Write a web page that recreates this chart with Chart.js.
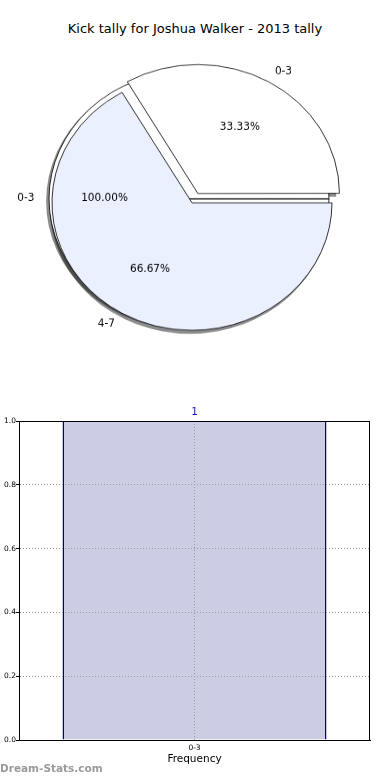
<!DOCTYPE html>
<html>
<head>
<meta charset="utf-8">
<script src="https://cdn.jsdelivr.net/npm/chart.js@4.4.1/dist/chart.umd.min.js"></script>
<style>
  body { margin: 0; background: #fff; width: 390px; height: 780px; overflow: hidden; position: relative; font-family: "DejaVu Sans", sans-serif; }
  #title { position: absolute; top: 21px; left: 0; width: 390px; text-align: center; font-size: 13px; color: #000; }
  canvas { position: absolute; }
  .pie { transform-origin: 0 0; transform: scaleY(0.911); }
  #bgPie { left: -3.5px; top: 52.6px; }
  #pie { left: 0; top: 57.2px; }
  #bar { left: 0; top: 400px; }
  #mark { position: absolute; left: 0; top: 762px; font-size: 10.5px; font-weight: bold; color: #9a9a9a; }
</style>
</head>
<body>
<div id="title">Kick tally for Joshua Walker - 2013 tally</div>
<canvas id="bgPie" class="pie" width="384" height="320"></canvas>
<canvas id="pie" class="pie" width="384" height="320"></canvas>
<canvas id="bar" width="390" height="380"></canvas>
<div id="mark">Dream-Stats.com</div>
<script>
// data
const allLabels = ['0-3'];
const allValues = [1];
const pieLabels = ['0-3', '4-7'];
const pieValues = [1, 2];
const barLabels = ['0-3'];
const barValues = [1];
const yTicks = [0, 0.2, 0.4, 0.6, 0.8, 1.0];

const squash = 0.911;
// where the back pie sits relative to the front one (front canvas units)
const bgShift = { x: -3.5, y: (52.6 - 57.2) / squash };

let bgChart, mainChart;

// chart.js moves an arc by offset / 4
function arcCenter(arc, p, mid) {
    const off = (arc.options.offset || 0) / 4;
    return { x: p.x + Math.cos(mid) * off, y: p.y + Math.sin(mid) * off };
}

// grey offset copy of each wedge (like matplotlib shadow=True)
function drawShadows(chart, ctx) {
    ctx.save();
    ctx.fillStyle = 'rgba(0,0,0,0.45)';
    chart.getDatasetMeta(0).data.forEach(arc => {
        const p = arc.getProps(['x', 'y', 'startAngle', 'endAngle', 'outerRadius']);
        const mid = (p.startAngle + p.endAngle) / 2;
        const c = arcCenter(arc, p, mid);
        const cx = c.x - 2.5, cy = c.y + 2.8;
        ctx.beginPath();
        ctx.moveTo(cx, cy);
        ctx.arc(cx, cy, p.outerRadius + 0.4, p.startAngle, p.endAngle);
        ctx.closePath();
        ctx.fill();
    });
    ctx.restore();
}

// label outside at 1.1r, percent inside at 0.6r
function drawPieLabels(chart, ctx) {
    const ds = chart.data.datasets[0];
    const total = ds.data.reduce((a, b) => a + b, 0);
    chart.getDatasetMeta(0).data.forEach((arc, i) => {
        const p = arc.getProps(['x', 'y', 'startAngle', 'endAngle', 'outerRadius']);
        const mid = (p.startAngle + p.endAngle) / 2;
        const c = arcCenter(arc, p, mid);
        const put = (txt, k, align) => {
            ctx.save();
            ctx.translate(c.x + Math.cos(mid) * p.outerRadius * k, c.y + Math.sin(mid) * p.outerRadius * k);
            ctx.scale(1, 1 / squash);
            ctx.font = '10.5px "DejaVu Sans"';
            ctx.fillStyle = '#000';
            ctx.textAlign = align;
            ctx.textBaseline = 'middle';
            ctx.fillText(txt, 0, 0);
            ctx.restore();
        };
        put(chart.data.labels[i], 1.1, Math.cos(mid) > 0.001 ? 'left' : 'right');
        put((ds.data[i] / total * 100).toFixed(2) + '%', 0.6, 'center');
    });
}

function pieOptions(rotation) {
    return {
        responsive: false,
        animation: false,
        radius: 140,
        rotation: rotation,
        layout: { padding: 0 },
        plugins: { legend: { display: false }, tooltip: { enabled: false } }
    };
}

// front pie (canvas on top); it also prints the back pie's texts
mainChart = new Chart(document.getElementById('pie'), {
    type: 'pie',
    data: {
        labels: pieLabels,
        datasets: [{
            data: pieValues,
            backgroundColor: ['#ffffff', '#eaf0fd'],
            borderColor: '#000',
            borderWidth: 0.8,
            offset: [47, 0]
        }]
    },
    options: pieOptions(-30),
    plugins: [{
        id: 'labels',
        afterDraw(chart) {
            if (bgChart) {
                chart.ctx.save();
                chart.ctx.translate(bgShift.x, bgShift.y);
                drawPieLabels(bgChart, chart.ctx);
                chart.ctx.restore();
            }
            drawPieLabels(chart, chart.ctx);
        }
    }]
});

// back pie: all shadows go under it, so the front pie's shadow only peeks out past its rim
bgChart = new Chart(document.getElementById('bgPie'), {
    type: 'pie',
    data: {
        labels: allLabels,
        datasets: [{ data: allValues, backgroundColor: ['#ffffff'], borderColor: '#000', borderWidth: 0.8 }]
    },
    options: pieOptions(90),
    plugins: [{
        id: 'shadow',
        beforeDatasetsDraw(chart) {
            drawShadows(chart, chart.ctx);
            chart.ctx.save();
            chart.ctx.translate(-bgShift.x, -bgShift.y);
            drawShadows(mainChart, chart.ctx);
            chart.ctx.restore();
        }
    }]
});
mainChart.draw();

// frame around the plot area + value on top of bars
const framePlugin = {
    id: 'frame',
    afterDraw(chart) {
        const ctx = chart.ctx, a = chart.chartArea;
        ctx.save();
        ctx.strokeStyle = '#000';
        ctx.lineWidth = 1;
        ctx.strokeRect(a.left + 0.5, a.top + 0.5, a.right - a.left - 1, a.bottom - a.top);
        ctx.font = '10.5px "DejaVu Sans"';
        ctx.fillStyle = '#1a1a9a';
        ctx.textAlign = 'center';
        ctx.textBaseline = 'bottom';
        chart.getDatasetMeta(0).data.forEach((bar, i) => {
            ctx.fillText(String(barValues[i]), bar.x, bar.y - 3);
        });
        ctx.restore();
    }
};

new Chart(document.getElementById('bar'), {
    type: 'bar',
    data: {
        labels: barLabels,
        datasets: [{
            data: barValues,
            backgroundColor: 'rgb(204,204,228)',
            borderColor: '#000080',
            borderWidth: { left: 1.5, right: 1.5, top: 0, bottom: 0 },
            barPercentage: 0.752,
            categoryPercentage: 1
        }]
    },
    options: {
        responsive: false,
        animation: false,
        layout: { padding: { left: 0, top: 21, right: 20, bottom: 0 } },
        plugins: { legend: { display: false }, tooltip: { enabled: false } },
        scales: {
            x: {
                // grid above the bar, border after the grid
                grid: { z: 1, offset: false, color: '#999', drawTicks: false },
                border: { z: 1, color: '#000', dash: [1, 2] },
                ticks: { padding: 4, color: '#000', font: { family: 'DejaVu Sans', size: 7.5 } },
                title: { display: true, text: 'Frequency', color: '#000', font: { family: 'DejaVu Sans', size: 10.5 }, padding: { top: 0, bottom: 14 } },
                afterFit(s) { s.height = 40; }
            },
            y: {
                min: 0, max: 1,
                afterBuildTicks(s) { s.ticks = yTicks.map(v => ({ value: v })); },
                grid: { z: 1, color: '#999', drawTicks: true, tickLength: 3, tickColor: '#000' },
                border: { z: 1, color: '#000', dash: [1, 2] },
                ticks: { padding: 0, color: '#000', font: { family: 'DejaVu Sans', size: 7.5 }, callback: v => Number(v).toFixed(1) },
                afterFit(s) { s.width = 19; }
            }
        }
    },
    plugins: [framePlugin]
});
</script>
</body>
</html>
